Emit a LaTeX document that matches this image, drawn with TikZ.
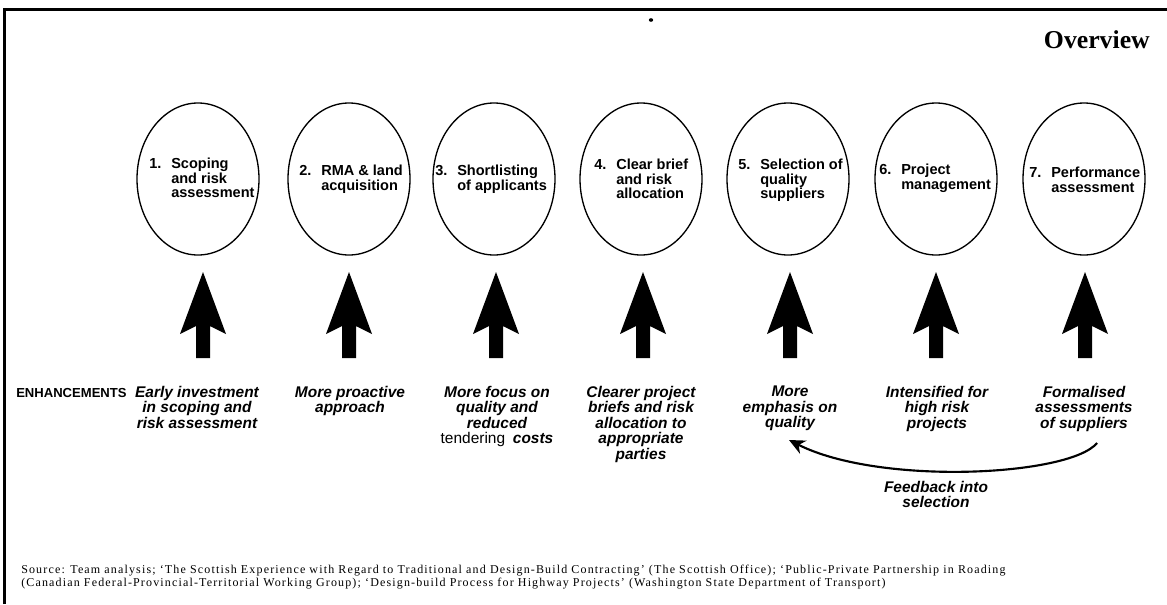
\documentclass[tikz,border=0pt]{standalone}
\usepackage{fontspec}
\setmainfont{Liberation Serif}
\newfontfamily\hv{Liberation Sans}
\newfontfamily\srcfont[LetterSpace=9.6]{Liberation Serif}
\usetikzlibrary{shapes.geometric,arrows.meta,calc}

% number with a hanging, left-aligned label
\newcommand\stagelabel[2]{\makebox[16.5pt][l]{#1}\begin{tabular}[t]{@{}l@{}}#2\end{tabular}}

\begin{document}
\begin{tikzpicture}[x=0.75pt,y=-0.75pt,
  stage/.style={ellipse,draw,line width=1pt,minimum width=91.5pt,minimum height=114pt,inner sep=0pt},
  stagetxt/.style={anchor=west,inner sep=0pt,font=\hv\bfseries\fontsize{10.9}{10.9}\selectfont},
  enh/.style={anchor=north,inner sep=0pt,align=center,font=\hv\bfseries\itshape\fontsize{11.6}{11.6}\selectfont},
  uparrow/.style={fill=black},
  feedback/.style={line width=1.6pt,-{Stealth[length=12pt,width=11pt]}},
]
\useasboundingbox (0,0) rectangle (1167,604);

% frame
\draw[line width=2.25pt] (4,604) -- (4,9) -- (1167,9);
\fill (651,20) ellipse (2.2 and 1.8);

% title
\node[anchor=base east,inner sep=0pt,font=\bfseries\fontsize{19.3}{20}\selectfont] (title) at (1150,48) {Overview};

% stages
\foreach \i/\x in {1/198,2/349,3/494,4/641,5/788,6/936,7/1084}
  \node[stage] (s\i) at (\x,179) {};

\node[stagetxt] (l1) at (149,180) {\stagelabel{1.}{Scoping\\and risk\\assessment}};
\node[stagetxt] (l2) at (299,180) {\stagelabel{2.}{RMA \& land\\acquisition}};
\node[stagetxt] (l3) at (435,180) {\stagelabel{3.}{Shortlisting\\of applicants}};
\node[stagetxt] (l4) at (594,181) {\stagelabel{4.}{Clear brief\\and risk\\allocation}};
\node[stagetxt] (l5) at (738,181) {\stagelabel{5.}{Selection of\\quality\\suppliers}};
\node[stagetxt] (l6) at (879,179) {\stagelabel{6.}{Project\\management}};
\node[stagetxt] (l7) at (1029,182) {\stagelabel{7.}{Performance\\assessment}};

% block arrows under each stage
\foreach \i/\x in {1/203,2/349,3/496,4/643,5/790,6/936,7/1085}{
  \coordinate (a\i) at (\x,358);
  \fill[uparrow] (a\i) ++(-7,0) -- ++(0,-32) -- ++(-16,8) -- ($(a\i)+(0,-86)$) -- ++(23,62) -- ++(-16,-8) -- ++(0,32) -- cycle;
}

% enhancements
\node[anchor=west,inner sep=0pt,font=\hv\bfseries\fontsize{9.8}{10}\selectfont] (enhl) at (16,393) {ENHANCEMENTS};
\node[enh] (t1) at (197,386) {Early investment\\in scoping and\\risk assessment};
\node[enh] (t2) at (350,386) {More proactive\\approach};
\node[enh] (t3) at (497,386) {More focus on\\quality and\\reduced\\{\normalfont\hv tendering}\enspace costs};
\node[enh] (t4) at (641,386) {Clearer project\\briefs and risk\\allocation to\\appropriate\\parties};
\node[enh] (t5) at (790,386) {More\\emphasis on\\quality};
\node[enh] (t6) at (937,386) {Intensified for\\high risk\\projects};
\node[enh] (t7) at (1084,386) {Formalised\\assessments\\of suppliers};

% feedback loop
\coordinate (fbstart) at (1097,443);
\coordinate (fbend) at (789,440);
\draw[feedback] (fbstart) .. controls (1070,476) and (880,486) .. (fbend);
\node[enh] (fb) at (936,481) {Feedback into\\selection};

% source line
\node[anchor=north west,inner sep=0pt,align=left,font=\srcfont\fontsize{9}{9.75}\selectfont] (src) at (21,565)
  {Source: Team analysis; ‘The Scottish Experience with Regard to Traditional and Design-Build Contracting’ (The Scottish Office); ‘Public-Private Partnership in Roading\\
   (Canadian Federal-Provincial-Territorial Working Group); ‘Design-build Process for Highway Projects’ (Washington State Department of Transport)};
\end{tikzpicture}
\end{document}
